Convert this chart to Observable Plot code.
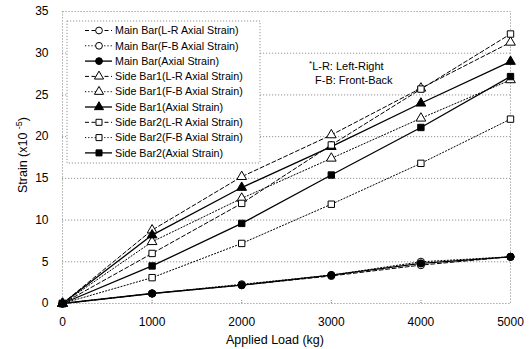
<!DOCTYPE html>
<html>
<head>
<meta charset="utf-8">
<script src="https://cdn.jsdelivr.net/npm/d3@7"></script>
<script src="https://cdn.jsdelivr.net/npm/@observablehq/plot@0.6"></script>
<style>
  body { margin: 0; background: #fff; }
  #wrap { position: relative; width: 530px; height: 349px; font-family: "Liberation Sans", Arial, sans-serif; }
  #wrap svg { position: absolute; left: 0; top: 0; }
</style>
</head>
<body>
<div id="wrap"></div>
<script>
// ---- data ----
const loads = [0, 1000, 2000, 3000, 4000, 5000];
const mainBarLR   = [0, 1.2, 2.2, 3.3, 4.6, 5.6];
const mainBarFB   = [0, 1.2, 2.3, 3.4, 5.0, 5.6];
const mainBarAx   = [0, 1.2, 2.2, 3.4, 4.8, 5.6];
const side1LR     = [0, 8.8, 15.2, 20.2, 25.8, 31.3];
const side1FB     = [0, 7.4, 12.6, 17.4, 22.2, 26.8];
const side1Ax     = [0, 8.2, 13.9, 18.8, 24.0, 29.0];
const side2LR     = [0, 6.0, 12.0, 19.0, 25.7, 32.3];
const side2FB     = [0, 3.1, 7.2, 11.9, 16.8, 22.1];
const side2Ax     = [0, 4.5, 9.6, 15.4, 21.1, 27.2];
const seriesNames = [
  "Main Bar(L-R Axial Strain)", "Main Bar(F-B Axial Strain)", "Main Bar(Axial Strain)",
  "Side Bar1(L-R Axial Strain)", "Side Bar1(F-B Axial Strain)", "Side Bar1(Axial Strain)",
  "Side Bar2(L-R Axial Strain)", "Side Bar2(F-B Axial Strain)", "Side Bar2(Axial Strain)"
];
const seriesValues = [mainBarLR, mainBarFB, mainBarAx, side1LR, side1FB, side1Ax, side2LR, side2FB, side2Ax];
const yTicks = [0, 5, 10, 15, 20, 25, 30, 35];
const xTicks = [0, 1000, 2000, 3000, 4000, 5000];
const xLabel = "Applied Load (kg)";
const yLabel = "Strain (x10 ";
const yLabelExp = "-5";
const noteLines = ["L-R: Left-Right", "F-B: Front-Back"];

// ---- styles ----
const symbols = ["circle", "circle", "circle", "triangle", "triangle", "triangle", "square", "square", "square"];
const kinds = ["dash", "dot", "solid", "dash", "dot", "solid", "dash", "dot", "solid"];
const dashFor = {dash: "4,2.5", dot: "1.2,2", solid: null};
const widthFor = {dash: 1, dot: 1, solid: 1.3};

const rows = [];
seriesNames.forEach((name, i) => {
  loads.forEach((x, j) => rows.push({series: name, idx: i, load: x, strain: seriesValues[i][j]}));
});

const marks = [
  Plot.ruleY(yTicks.slice(1, -1), {stroke: "#888", strokeDasharray: "1.2,1.8", strokeWidth: 0.9}),
  Plot.frame({stroke: "#888", strokeDasharray: "1.2,1.8", strokeWidth: 0.9}),
  Plot.ruleX(xTicks.slice(1, -1), {y1: 0, y2: 0.35, stroke: "#777", strokeDasharray: "1,1"}),
];
seriesNames.forEach((name, i) => {
  const d = rows.filter(r => r.idx === i);
  const k = kinds[i];
  marks.push(Plot.line(d, {x: "load", y: "strain", stroke: "#000", strokeWidth: widthFor[k], strokeDasharray: dashFor[k]}));
});
seriesNames.forEach((name, i) => {
  const d = rows.filter(r => r.idx === i);
  const filled = kinds[i] === "solid";
  marks.push(Plot.dot(d, {x: "load", y: "strain", symbol: () => symbols[i], r: 3.6,
    fill: filled ? "#000" : "#fff", stroke: "#000", strokeWidth: 1}));
});

const chart = Plot.plot({
  width: 530, height: 349,
  marginLeft: 62, marginRight: 20, marginTop: 11, marginBottom: 46,
  style: {fontFamily: "'Liberation Sans', Arial, sans-serif", fontSize: "12px", background: "#fff", color: "#000"},
  symbol: {type: "identity"},
  x: {domain: [0, 5000], ticks: xTicks, tickFormat: d3.format("d"), tickSize: 0, tickPadding: 14, label: null},
  y: {domain: [0, 35], ticks: yTicks, tickSize: 0, tickPadding: 14, label: null},
  marks
});
document.getElementById("wrap").appendChild(chart);

// ---- overlay: legend, note, axis titles ----
const ov = d3.select("#wrap").append("svg").attr("width", 530).attr("height", 349)
  .style("font-family", "'Liberation Sans', Arial, sans-serif");

// legend box
const lg = {x: 67, y: 21, w: 193, h: 142, row0: 30.5, step: 15.3};
ov.append("rect").attr("x", lg.x).attr("y", lg.y).attr("width", lg.w).attr("height", lg.h)
  .attr("fill", "#fff").attr("stroke", "#888").attr("stroke-dasharray", "1.2,1.8").attr("stroke-width", 0.9);
seriesNames.forEach((name, i) => {
  const y = lg.row0 + i * lg.step;
  const k = kinds[i];
  ov.append("line").attr("x1", 85).attr("x2", 112).attr("y1", y).attr("y2", y)
    .attr("stroke", "#000").attr("stroke-width", widthFor[k]).attr("stroke-dasharray", dashFor[k]);
  const sym = {circle: d3.symbolCircle, triangle: d3.symbolTriangle, square: d3.symbolSquare}[symbols[i]];
  ov.append("path").attr("d", d3.symbol(sym, Math.PI * 3.4 * 3.4)()).attr("transform", `translate(99,${y})`)
    .attr("fill", k === "solid" ? "#000" : "#fff").attr("stroke", "#000");
  ov.append("text").attr("x", 115).attr("y", y).attr("dy", "0.35em").attr("font-size", 10.7).text(name);
});

// note
const note = ov.append("text").attr("font-size", 11).attr("y", 70);
note.append("tspan").attr("x", 309).attr("dy", -4).attr("font-size", 8).text("*");
note.append("tspan").attr("dy", 4).text(noteLines[0]);
ov.append("text").attr("x", 315).attr("y", 84).attr("font-size", 11).text(noteLines[1]);

// axis titles
ov.append("text").attr("x", 275).attr("y", 344).attr("text-anchor", "middle").attr("font-size", 12.5).text(xLabel);
const yl = ov.append("text").attr("transform", "translate(27,155) rotate(-90)").attr("text-anchor", "middle").attr("font-size", 12.5);
yl.append("tspan").text(yLabel);
yl.append("tspan").attr("dy", -5).attr("font-size", 9).text(yLabelExp);
yl.append("tspan").attr("dy", 5).text(")");
</script>
</body>
</html>
